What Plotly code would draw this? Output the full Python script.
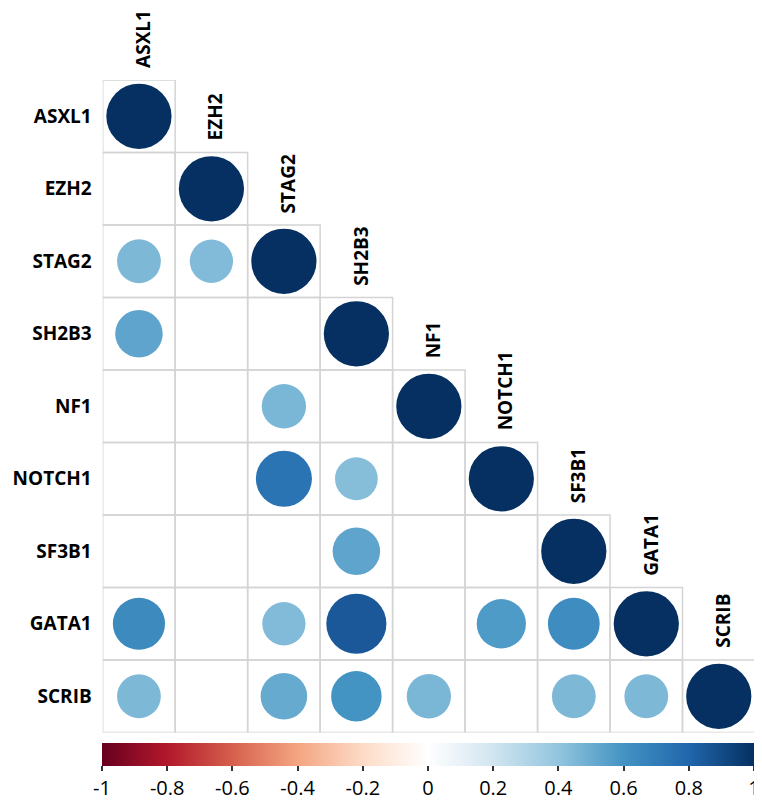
import plotly.graph_objects as go
from plotly.colors import sample_colorscale
import math

genes = ["ASXL1", "EZH2", "STAG2", "SH2B3", "NF1", "NOTCH1", "SF3B1", "GATA1", "SCRIB"]

# lower-triangle correlation values (row i, columns 0..i)
corr_ASXL1 = [1.0]
corr_EZH2 = [0.0, 1.0]
corr_STAG2 = [0.45, 0.44, 1.0]
corr_SH2B3 = [0.53, 0.0, 0.01, 1.0]
corr_NF1 = [0.0, 0.0, 0.46, 0.0, 1.0]
corr_NOTCH1 = [0.0, 0.0, 0.74, 0.43, 0.0, 1.0]
corr_SF3B1 = [0.0, 0.0, 0.0, 0.53, 0.0, 0.0, 1.0]
corr_GATA1 = [0.64, 0.0, 0.44, 0.85, 0.0, 0.57, 0.63, 1.0]
corr_SCRIB = [0.45, 0.0, 0.51, 0.60, 0.46, 0.0, 0.45, 0.45, 1.0]
corr_rows = [corr_ASXL1, corr_EZH2, corr_STAG2, corr_SH2B3, corr_NF1,
             corr_NOTCH1, corr_SF3B1, corr_GATA1, corr_SCRIB]

colorbar_ticks = [-1, -0.8, -0.6, -0.4, -0.2, 0, 0.2, 0.4, 0.6, 0.8, 1]
colorbar_ticktext = ["-1", "-0.8", "-0.6", "-0.4", "-0.2", "0", "0.2", "0.4", "0.6", "0.8", "1"]

rdbu = ["#67001F", "#B2182B", "#D6604D", "#F4A582", "#FDDBC7", "#FFFFFF",
        "#D1E5F0", "#92C5DE", "#4393C3", "#2166AC", "#053061"]
colorscale = [[i / (len(rdbu) - 1), c] for i, c in enumerate(rdbu)]

# page body has an 8px margin, so the figure is offset by 8px
OFF = 8
W, H = 762 - OFF, 801 - OFF
x_left, x_right = 102.7 - OFF, 755.0 - OFF
y_top, y_bot = 80.0 - OFF, 732.5 - OFF
cb_left, cb_right, cb_top = 102.0 - OFF, 754.0 - OFF, 742.5 - OFF
n = len(genes)

fig = go.Figure()

shapes = []
# grid cells (lower triangle incl. diagonal)
for i in range(n):
    for j in range(i + 1):
        shapes.append(dict(type="rect", xref="x", yref="y",
                           x0=j - 0.5, x1=j + 0.5, y0=i - 0.5, y1=i + 0.5,
                           line=dict(color="#d4d4d4", width=1.5),
                           fillcolor="rgba(0,0,0,0)", layer="below"))
# circles: diameter = 0.9 * sqrt(|r|) of a cell
for i, row in enumerate(corr_rows):
    for j, v in enumerate(row):
        if v == 0:
            continue
        rad = 0.45 * math.sqrt(abs(v))
        col = sample_colorscale(colorscale, [(v + 1) / 2])[0]
        shapes.append(dict(type="circle", xref="x", yref="y",
                           x0=j - rad, x1=j + rad, y0=i - rad, y1=i + rad,
                           fillcolor=col, line=dict(width=0), layer="above"))

annotations = []
for j, g in enumerate(genes):
    annotations.append(dict(x=j, y=j - 0.5, xref="x", yref="y", text=g,
                            textangle=-90, showarrow=False,
                            xanchor="center", yanchor="bottom",
                            xshift=4, yshift=10,
                            font=dict(family="Open Sans", size=19, color="black", weight="bold")))

# colorbar via a dummy trace
fig.add_trace(go.Scatter(
    x=[0], y=[0], mode="markers", hoverinfo="skip", showlegend=False,
    marker=dict(size=0.1, opacity=0, color=[0], cmin=-1, cmax=1,
                colorscale=colorscale, showscale=True,
                colorbar=dict(orientation="h", thickness=23,
                              lenmode="pixels", len=cb_right - cb_left,
                              x=(cb_left + cb_right) / 2 / W, xanchor="center",
                              y=(H - cb_top) / H, yanchor="top",
                              xpad=0, ypad=0, outlinewidth=0,
                              ticks="outside", ticklen=5, tickwidth=1.5,
                              tickcolor="#333333",
                              tickvals=colorbar_ticks, ticktext=colorbar_ticktext,
                              tickfont=dict(family="Open Sans", size=20, color="black"))),
))

fig.update_layout(
    width=W, height=H,
    margin=dict(l=0, r=0, t=0, b=0, autoexpand=False),
    paper_bgcolor="white", plot_bgcolor="white",
    shapes=shapes, annotations=annotations,
    xaxis=dict(domain=[x_left / W, x_right / W], range=[-0.5, n - 0.5],
               showgrid=False, zeroline=False, showticklabels=False,
               ticks="", fixedrange=True),
    yaxis=dict(domain=[(H - y_bot) / H, (H - y_top) / H], range=[n - 0.5, -0.5],
               showgrid=False, zeroline=False, tickvals=list(range(n)), ticktext=genes,
               ticks="", ticklabelstandoff=10,
               tickfont=dict(family="Open Sans", size=19, color="black", weight="bold"),
               fixedrange=True),
    font=dict(family="Open Sans"),
)

fig.write_html("out.html")
